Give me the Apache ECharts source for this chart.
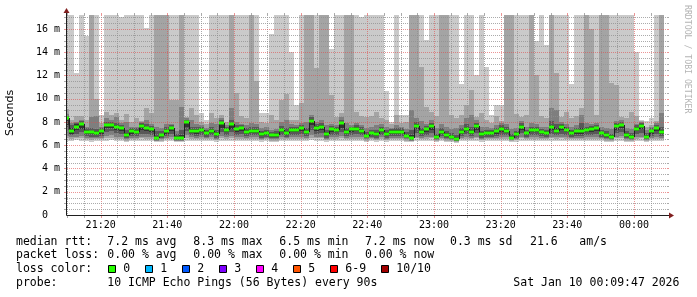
<!DOCTYPE html>
<html><head><meta charset="utf-8">
<script src="https://cdn.jsdelivr.net/npm/echarts@6/dist/echarts.min.js"></script>
<style>html,body{margin:0;padding:0;background:#fff}#c{width:697px;height:297px}</style>
</head><body><div id="c"></div>
<script>
// ---- time grid (minutes after 21:00) ----
const X_MIN = 9.9, X_MAX = 189.9, Y_MAX = 17.2;
const STEP = 1.5;            // 90 s per sample
const FIRST_START = 9.0;     // first sample column start (21:09:00)
const xTickValues = [20, 40, 60, 80, 100, 120, 140, 160, 180];
const xTickLabels = ['21:20','21:40','22:00','22:20','22:40','23:00','23:20','23:40','00:00'];
const yTickValues = [0, 2, 4, 6, 8, 10, 12, 14, 16];
const yTickLabels = ['0  ','2 m','4 m','6 m','8 m','10 m','12 m','14 m','16 m'];
const yAxisTitle = 'Seconds';

// ---- ping data (ms), sorted pings per sample: p1 = lowest ... p10 = highest ----
const median = [8.37,7.25,7.6,7.8,7.14,7.1,7.08,7.23,7.71,7.71,7.6,7.45,6.88,7.23,7.11,7.66,7.45,7.37,6.6,6.85,
7.25,7.45,6.6,6.6,7.97,7.25,7.25,7.31,7.08,7.25,6.94,7.88,7.31,7.8,7.37,7.48,7.14,7.26,7.26,6.94,
7.08,6.88,6.88,7.31,7.08,7.31,7.31,7.45,7.11,8.11,7.51,7.6,6.97,7.37,7.31,7.88,7.14,7.37,7.43,7.26,
6.8,7.03,6.97,7.31,6.97,7.17,7.17,7.17,6.8,6.6,7.66,7.17,7.37,7.63,6.68,7.14,6.88,6.74,6.54,7.17,
7.43,7.17,7.63,6.94,7.08,7.08,7.2,7.4,7.26,6.65,6.94,7.6,7.03,7.31,7.31,7.11,7.05,7.54,7.26,7.54,
7.31,7.08,7.23,7.23,7.31,7.4,7.48,7.03,6.91,6.68,7.63,7.71,6.91,6.74,7.43,7.66,6.74,7.2,7.46,7.14];
const p10 = [17.2,17.2,12.2,17.2,15.4,17.2,17.2,8.6,17.2,17.2,17.2,17.0,17.2,17.2,17.2,17.2,16.1,17.2,17.2,17.2,
17.2,17.2,17.2,17.2,17.2,17.2,17.2,8.8,8.2,17.2,17.2,17.2,17.2,17.2,17.2,17.2,17.2,17.2,17.2,8.8,
8.8,15.6,17.2,17.2,17.2,14.05,9.5,17.2,17.2,17.2,17.2,17.2,17.2,14.3,17.2,17.2,17.2,17.2,17.2,17.0,
17.2,17.2,17.2,17.2,10.7,8.0,17.2,8.6,8.6,17.2,17.2,17.2,15.05,17.2,17.2,17.2,17.2,17.2,17.2,11.3,
17.2,17.2,12.0,17.2,12.75,8.6,9.5,9.5,17.2,17.2,17.2,17.2,17.2,17.2,15.0,17.2,14.6,17.2,17.2,17.2,
17.2,11.3,17.2,17.2,17.2,17.2,17.2,17.2,17.2,17.2,17.2,17.2,17.2,17.2,14.05,8.2,8.1,8.3,17.2,17.2];
const p9 = [9.1,8.2,8.5,8.5,8.2,17.2,10.0,7.9,8.9,8.6,8.8,8.2,8.7,8.0,8.3,8.1,9.2,8.8,17.2,17.2,
17.2,9.9,9.9,17.2,8.4,9.2,8.6,8.0,7.8,8.8,8.3,8.6,8.0,17.2,10.5,8.5,8.3,17.2,11.5,8.0,
7.9,8.6,8.2,9.9,10.4,8.2,8.2,9.6,17.2,17.2,12.6,17.2,17.2,10.3,8.4,8.8,17.2,17.2,8.9,8.5,
8.4,8.5,8.9,8.3,8.2,7.8,8.6,7.9,8.0,17.2,17.2,12.75,9.3,8.9,8.5,17.2,17.2,8.6,8.3,8.6,
9.5,10.75,8.4,8.8,8.2,7.9,8.5,8.1,17.2,17.2,8.7,8.4,8.6,17.2,12.0,8.5,8.3,17.2,12.2,8.4,
8.9,8.3,8.5,9.2,17.2,16.0,8.6,17.2,17.2,11.35,11.2,8.4,8.3,8.9,8.5,8.1,7.6,7.7,8.1,17.2];
const p8 = [8.7,7.9,8.0,8.2,7.6,8.4,8.5,7.6,8.3,8.2,8.4,7.9,8.0,7.6,7.6,8.0,8.2,7.8,7.6,7.5,
7.8,7.8,7.2,9.3,8.3,8.2,7.8,7.7,7.5,7.9,7.8,8.3,7.7,9.2,8.0,7.8,7.7,7.9,7.8,7.5,
7.6,7.3,7.4,8.0,8.2,7.8,7.7,7.9,8.0,8.6,8.0,8.2,7.7,7.8,7.7,8.4,7.9,7.7,7.9,7.7,
7.5,7.6,7.7,7.8,7.6,7.5,7.7,7.6,7.4,9.0,8.3,8.1,7.8,8.2,7.5,7.8,7.6,7.4,7.5,7.7,
8.3,8.6,8.2,7.6,7.6,7.5,7.7,7.9,7.8,7.4,7.5,8.1,7.6,7.9,7.8,7.6,7.6,9.2,9.0,8.0,
7.8,7.6,7.7,8.6,7.9,7.8,7.9,7.6,7.5,7.4,8.1,8.2,7.5,7.4,7.8,8.0,7.3,7.6,7.9,8.8];
const p7 = [8.55,7.7,7.9,8.05,7.45,7.5,7.4,7.5,8.0,8.0,7.95,7.75,7.3,7.5,7.45,7.9,7.8,7.65,7.2,7.2,
7.55,7.7,6.95,7.3,8.2,7.6,7.55,7.55,7.35,7.55,7.3,8.15,7.55,8.2,7.7,7.7,7.45,7.6,7.55,7.25,
7.35,7.15,7.2,7.65,7.5,7.6,7.55,7.75,7.5,8.4,7.8,7.9,7.3,7.65,7.55,8.15,7.45,7.6,7.7,7.55,
7.1,7.3,7.3,7.6,7.3,7.4,7.45,7.45,7.1,7.3,8.0,7.5,7.65,7.95,7.0,7.45,7.2,7.05,6.9,7.45,
7.8,7.6,7.95,7.25,7.35,7.35,7.5,7.7,7.6,7.0,7.25,7.9,7.3,7.6,7.6,7.4,7.35,8.1,7.8,7.8,
7.6,7.35,7.5,7.9,7.6,7.65,7.75,7.3,7.2,7.0,7.9,8.0,7.2,7.05,7.7,7.9,7.05,7.45,7.75,7.6];
const p6 = [8.45,7.5,7.8,7.95,7.3,7.25,7.2,7.35,7.85,7.85,7.75,7.6,7.05,7.4,7.3,7.8,7.6,7.5,6.8,7.0,
7.4,7.6,6.8,6.85,8.1,7.4,7.4,7.45,7.2,7.4,7.1,8.0,7.45,7.95,7.5,7.6,7.3,7.4,7.4,7.1,
7.2,7.0,7.05,7.45,7.25,7.45,7.45,7.6,7.3,8.25,7.65,7.75,7.15,7.5,7.45,8.0,7.3,7.5,7.55,7.4,
6.95,7.15,7.1,7.45,7.1,7.3,7.3,7.3,6.95,6.85,7.8,7.3,7.5,7.8,6.85,7.3,7.05,6.9,6.7,7.3,
7.6,7.35,7.8,7.1,7.2,7.2,7.35,7.55,7.4,6.8,7.1,7.75,7.15,7.45,7.45,7.25,7.2,7.75,7.45,7.7,
7.45,7.2,7.35,7.45,7.45,7.55,7.6,7.15,7.05,6.85,7.8,7.85,7.05,6.9,7.55,7.8,6.9,7.35,7.6,7.3];
const p5 = [7.7,7.0,7.3,7.4,6.95,6.95,6.9,7.0,7.45,7.5,7.35,7.2,6.75,7.0,6.95,7.35,7.2,7.15,6.5,6.7,
7.0,7.2,6.5,6.5,7.6,7.05,7.0,7.1,6.9,7.05,6.8,7.5,7.1,7.4,7.15,7.2,6.95,7.05,7.05,6.8,
6.9,6.75,6.75,7.1,6.9,7.1,7.1,7.2,6.95,7.7,7.25,7.35,6.8,7.15,7.1,7.5,6.95,7.15,7.2,7.05,
6.7,6.85,6.8,7.1,6.8,6.95,6.95,6.95,6.7,6.5,7.4,6.95,7.15,7.35,6.6,6.95,6.75,6.65,6.45,6.95,
7.2,6.95,7.35,6.8,6.9,6.9,7.0,7.15,7.05,6.55,6.8,7.35,6.85,7.1,7.1,6.95,6.9,7.3,7.05,7.3,
7.1,6.9,7.0,7.0,7.1,7.15,7.2,6.85,6.75,6.6,7.35,7.45,6.75,6.65,7.2,7.4,6.65,7.0,7.2,6.95];
const p4 = [7.3,6.85,7.0,7.1,6.8,6.75,6.75,6.8,7.1,7.2,7.05,6.95,6.6,6.8,6.8,7.0,6.95,6.9,6.45,6.6,
6.8,6.95,6.45,6.45,7.2,6.85,6.8,6.9,6.75,6.85,6.65,7.15,6.9,7.1,6.9,6.95,6.8,6.85,6.85,6.65,
6.75,6.6,6.6,6.9,6.75,6.9,6.9,6.95,6.8,7.3,7.0,7.05,6.65,6.9,6.9,7.15,6.8,6.9,6.95,6.85,
6.6,6.7,6.65,6.9,6.65,6.8,6.8,6.8,6.6,6.45,7.05,6.8,6.9,7.05,6.5,6.8,6.6,6.55,6.4,6.8,
6.95,6.8,7.05,6.65,6.75,6.75,6.8,6.9,6.85,6.5,6.65,7.05,6.7,6.9,6.9,6.8,6.75,7.0,6.85,7.0,
6.9,6.75,6.8,6.8,6.9,6.9,6.95,6.7,6.6,6.5,7.05,7.1,6.6,6.55,6.95,7.05,6.55,6.8,6.95,6.8];
const p3 = [6.8,6.7,6.75,6.8,6.65,6.6,6.6,6.65,6.8,6.85,6.75,6.7,6.5,6.65,6.65,6.75,6.7,6.7,6.4,6.5,
6.65,6.7,6.4,6.4,6.85,6.7,6.65,6.7,6.6,6.7,6.55,6.8,6.7,6.8,6.7,6.7,6.65,6.7,6.7,6.55,
6.6,6.5,6.5,6.7,6.6,6.7,6.7,6.7,6.65,6.9,6.75,6.75,6.55,6.7,6.7,6.8,6.65,6.7,6.7,6.7,
6.5,6.6,6.55,6.7,6.55,6.65,6.65,6.65,6.5,6.4,6.75,6.65,6.7,6.75,6.45,6.65,6.5,6.45,6.35,6.65,
6.7,6.65,6.75,6.55,6.6,6.6,6.65,6.7,6.7,6.45,6.55,6.75,6.6,6.7,6.7,6.65,6.6,6.75,6.7,6.75,
6.7,6.6,6.65,6.65,6.7,6.7,6.7,6.6,6.5,6.45,6.75,6.8,6.5,6.45,6.7,6.75,6.45,6.65,6.7,6.65];
const p2 = [6.6,6.55,6.6,6.6,6.5,6.45,6.5,6.5,6.6,6.65,6.55,6.55,6.4,6.5,6.5,6.6,6.55,6.55,6.35,6.4,
6.5,6.55,6.35,6.35,6.6,6.55,6.5,6.55,6.5,6.55,6.45,6.6,6.55,6.6,6.55,6.55,6.5,6.55,6.55,6.45,
6.5,6.4,6.4,6.55,6.5,6.55,6.55,6.55,6.5,6.65,6.6,6.6,6.45,6.55,6.55,6.6,6.5,6.55,6.55,6.55,
6.4,6.5,6.45,6.55,6.45,6.5,6.5,6.5,6.4,6.35,6.6,6.5,6.55,6.6,6.35,6.5,6.4,6.4,6.3,6.5,
6.55,6.5,6.6,6.45,6.5,6.5,6.5,6.55,6.55,6.35,6.45,6.6,6.5,6.55,6.55,6.5,6.5,6.6,6.55,6.6,
6.55,6.5,6.5,6.5,6.55,6.55,6.55,6.5,6.4,6.35,6.6,6.6,6.4,6.4,6.55,6.6,6.4,6.5,6.55,6.5];
const p1 = [6.4,6.4,6.45,6.4,6.35,6.3,6.35,6.4,6.4,6.45,6.4,6.35,6.3,6.35,6.35,6.4,6.4,6.4,6.25,6.3,
6.35,6.4,6.25,6.25,6.4,6.4,6.35,6.4,6.35,6.4,6.3,6.4,6.4,6.4,6.4,6.4,6.35,6.4,6.4,6.3,
6.35,6.3,6.3,6.4,6.35,6.4,6.4,6.4,6.35,6.45,6.4,6.4,6.3,6.4,6.4,6.4,6.35,6.4,6.4,6.4,
6.3,6.35,6.3,6.4,6.3,6.35,6.35,6.35,6.3,6.25,6.4,6.35,6.4,6.4,6.25,6.35,6.3,6.3,6.2,6.35,
6.4,6.35,6.4,6.3,6.35,6.35,6.35,6.4,6.4,6.25,6.3,6.4,6.35,6.4,6.4,6.35,6.35,6.4,6.4,6.4,
6.4,6.35,6.35,6.35,6.4,6.4,6.4,6.35,6.3,6.25,6.4,6.4,6.3,6.3,6.4,6.4,6.3,6.35,6.4,6.35];

// ---- legend texts ----
const statLine1 = [['median rtt:',16],['7.2 ms avg',107.3],['8.3 ms max',193.3],['6.5 ms min',279.3],['7.2 ms now',365],['0.3 ms sd',450],['21.6',530],['am/s',579.3]];
const statLine2 = [['packet loss:',16],['0.00 % avg',107.3],['0.00 % max',193.3],['0.00 % min',279.3],['0.00 % now',365]];
const lossLabels = ['0','1','2','3','4','5','6-9','10/10'];
const lossColors = ['#26ff00','#00b8ff','#0059ff','#7e00ff','#ff00ff','#ff5500','#ff0000','#a10000'];
const probeText = '10 ICMP Echo Pings (56 Bytes) every 90s';
const dateText = 'Sat Jan 10 00:09:47 2026';

const bandColors = ['#cacaca','#a4a4a4','#7e7e7e','#585858','#323232'];
const N = median.length;
const colStart = [];
for (let i = 0; i < N; i++) colStart.push(FIRST_START + i * STEP);

const gridV = []; // [minute, major]
for (let t = 10; t < X_MAX; t += 5) gridV.push([t, t % 20 === 0 ? 1 : 0]);
const gridH = [];
for (let v = 0.5; v < Y_MAX; v += 0.5) gridH.push([v, Math.abs(v % 2) < 1e-9 ? 1 : 0]);

const MONO = '"DejaVu Sans Mono", monospace';
const GRID_C = 'rgba(143,143,143,0.75)';
const MGRID_C = 'rgba(222,79,79,0.6)';

const chart = echarts.init(document.getElementById('c'), null, {renderer: 'canvas'});

function smokeItem(params, api) {
  const i = params.dataIndex;
  const t0 = Math.max(colStart[i], X_MIN), t1 = colStart[i] + STEP;
  const xa = Math.round(api.coord([t0, 0])[0]), xb = Math.round(api.coord([t1, 0])[0]);
  const lows = [p1[i], p2[i], p3[i], p4[i], p5[i]];
  const highs = [p10[i], p9[i], p8[i], p7[i], p6[i]];
  const children = [];
  for (let k = 0; k < 5; k++) {
    const yt = Math.round(api.coord([t0, Math.min(highs[k], Y_MAX)])[1]);
    const yb = Math.round(api.coord([t0, lows[k]])[1]);
    children.push({type: 'rect', shape: {x: xa, y: yt, width: xb - xa, height: yb - yt}, style: {fill: bandColors[k]}});
  }
  return {type: 'group', children};
}
function medianItem(params, api) {
  const i = params.dataIndex;
  const t0 = Math.max(colStart[i], X_MIN), t1 = colStart[i] + STEP;
  const xa = Math.round(api.coord([t0, 0])[0]), xb = Math.round(api.coord([t1, 0])[0]);
  const y = Math.round(api.coord([t0, median[i]])[1]);
  const children = [];
  if (i > 0) {
    const yp = Math.round(api.coord([t0, median[i - 1]])[1]);
    children.push({type: 'line', shape: {x1: xa + 0.5, y1: yp, x2: xa + 0.5, y2: y}, style: {stroke: '#202020', lineWidth: 1}});
  }
  children.push({type: 'rect', shape: {x: xa, y: y - 1.5, width: xb - xa, height: 3}, style: {fill: '#26ff00'}});
  return {type: 'group', children};
}
function vGridItem(params, api) {
  const t = gridV[params.dataIndex][0], major = gridV[params.dataIndex][1];
  const x = Math.round(api.coord([t, 0])[0]) + 0.5;
  const yb = api.coord([t, 0])[1], yt = api.coord([t, Y_MAX])[1];
  const c = major ? MGRID_C : GRID_C;
  return {type: 'group', children: [
    {type: 'line', shape: {x1: x, y1: yt, x2: x, y2: yb}, style: {stroke: c, lineWidth: 1, lineDash: [1, 1]}},
    {type: 'line', shape: {x1: x, y1: yb, x2: x, y2: yb + 3}, style: {stroke: c, lineWidth: 1}},
    {type: 'line', shape: {x1: x, y1: yt - 2, x2: x, y2: yt}, style: {stroke: c, lineWidth: 1}}
  ]};
}
function hGridItem(params, api) {
  const v = gridH[params.dataIndex][0], major = gridH[params.dataIndex][1];
  const y = Math.round(api.coord([X_MIN, v])[1]) + 0.5;
  const xl = api.coord([X_MIN, v])[0], xr = api.coord([X_MAX, v])[0];
  const c = major ? MGRID_C : GRID_C;
  return {type: 'group', children: [
    {type: 'line', shape: {x1: xl, y1: y, x2: xr, y2: y}, style: {stroke: c, lineWidth: 1, lineDash: [1, 1]}},
    {type: 'line', shape: {x1: xl - 3, y1: y, x2: xl, y2: y}, style: {stroke: c, lineWidth: 1}},
    {type: 'line', shape: {x1: xr, y1: y, x2: xr + 2, y2: y}, style: {stroke: c, lineWidth: 1}}
  ]};
}

chart.setOption({
  animation: false,
  backgroundColor: '#ffffff',
  grid: {left: 67, right: 30, top: 15, bottom: 82, containLabel: false, outerBoundsMode: 'none'},
  xAxis: {
    type: 'value', min: X_MIN, max: X_MAX,
    axisLine: {show: false}, axisTick: {show: false}, splitLine: {show: false},
    axisLabel: {customValues: xTickValues, margin: 5, color: '#000', fontFamily: MONO, fontSize: 10,
      formatter: v => xTickLabels[xTickValues.indexOf(v)] || ''}
  },
  yAxis: {
    type: 'value', min: 0, max: Y_MAX,
    axisLine: {show: false}, axisTick: {show: false}, splitLine: {show: false},
    axisLabel: {customValues: yTickValues, margin: 7, color: '#000', fontFamily: MONO, fontSize: 10,
      formatter: v => yTickLabels[yTickValues.indexOf(v)] || ''}
  },
  series: [
    {type: 'custom', name: 'smoke', z: 1, renderItem: smokeItem, data: median.map((m, i) => [colStart[i], p10[i]])},
    {type: 'custom', name: 'vgrid', z: 2, renderItem: vGridItem, data: gridV.map(g => [g[0], 0])},
    {type: 'custom', name: 'hgrid', z: 2, renderItem: hGridItem, data: gridH.map(g => [X_MIN, g[0]])},
    {type: 'custom', name: 'median', z: 3, renderItem: medianItem, data: median.map((m, i) => [colStart[i], m])}
  ]
});

// ---- axes, arrows, legend ----
const o = chart.convertToPixel({gridIndex: 0}, [X_MIN, 0]);
const tr = chart.convertToPixel({gridIndex: 0}, [X_MAX, Y_MAX]);
const ax = Math.round(o[0]) - 0.5, ay = Math.round(o[1]) + 0.5;
const g = [];
g.push({type: 'line', z: 10, shape: {x1: ax, y1: ay, x2: ax, y2: tr[1] - 2}, style: {stroke: '#1f1f1f', lineWidth: 1}});
g.push({type: 'line', z: 10, shape: {x1: ax, y1: ay, x2: tr[0] + 2, y2: ay}, style: {stroke: '#1f1f1f', lineWidth: 1}});
g.push({type: 'polygon', z: 11, shape: {points: [[ax - 3, tr[1] - 2], [ax + 3, tr[1] - 2], [ax, tr[1] - 7]]}, style: {fill: '#801f1f'}});
g.push({type: 'polygon', z: 11, shape: {points: [[tr[0] + 2, ay - 3], [tr[0] + 2, ay + 3], [tr[0] + 7, ay]]}, style: {fill: '#801f1f'}});
g.push({type: 'text', z: 10, x: 10, y: (o[1] + tr[1]) / 2 - 2, rotation: Math.PI / 2,
  style: {text: yAxisTitle, font: '11px "DejaVu Sans", sans-serif', fill: '#000', align: 'center', verticalAlign: 'middle'}});
const LFONT = '11.5px ' + MONO;
function txt(s, x, y, extra) {
  return Object.assign({type: 'text', z: 10, x: x, y: y, style: {text: s, font: LFONT, fill: '#000', textVerticalAlign: 'middle'}}, extra || {});
}
statLine1.forEach(([s, x]) => g.push(txt(s, x, 241.7)));
statLine2.forEach(([s, x]) => g.push(txt(s, x, 255)));
g.push(txt('loss color:', 16, 269));
const boxX = [108.5, 145.5, 182.5, 219.5, 256.5, 293.5, 330.5, 381.5];
lossLabels.forEach((l, k) => {
  g.push({type: 'rect', z: 10, shape: {x: boxX[k], y: 265.5, width: 7, height: 7}, style: {fill: lossColors[k], stroke: '#000', lineWidth: 1}});
  g.push(txt(l, boxX[k] + 14.8, 269));
});
g.push(txt('probe:', 16, 282.7));
g.push(txt(probeText, 107.3, 282.7));
g.push(txt(dateText, 513.3, 282.7));
g.push({type: 'text', z: 10, x: 691, y: 5, rotation: -Math.PI / 2,
  style: {text: 'RRDTOOL / TOBI OETIKER', font: '8.2px ' + MONO, fill: '#b4b4b4', textVerticalAlign: 'top'}});
chart.setOption({graphic: g});
</script></body></html>
